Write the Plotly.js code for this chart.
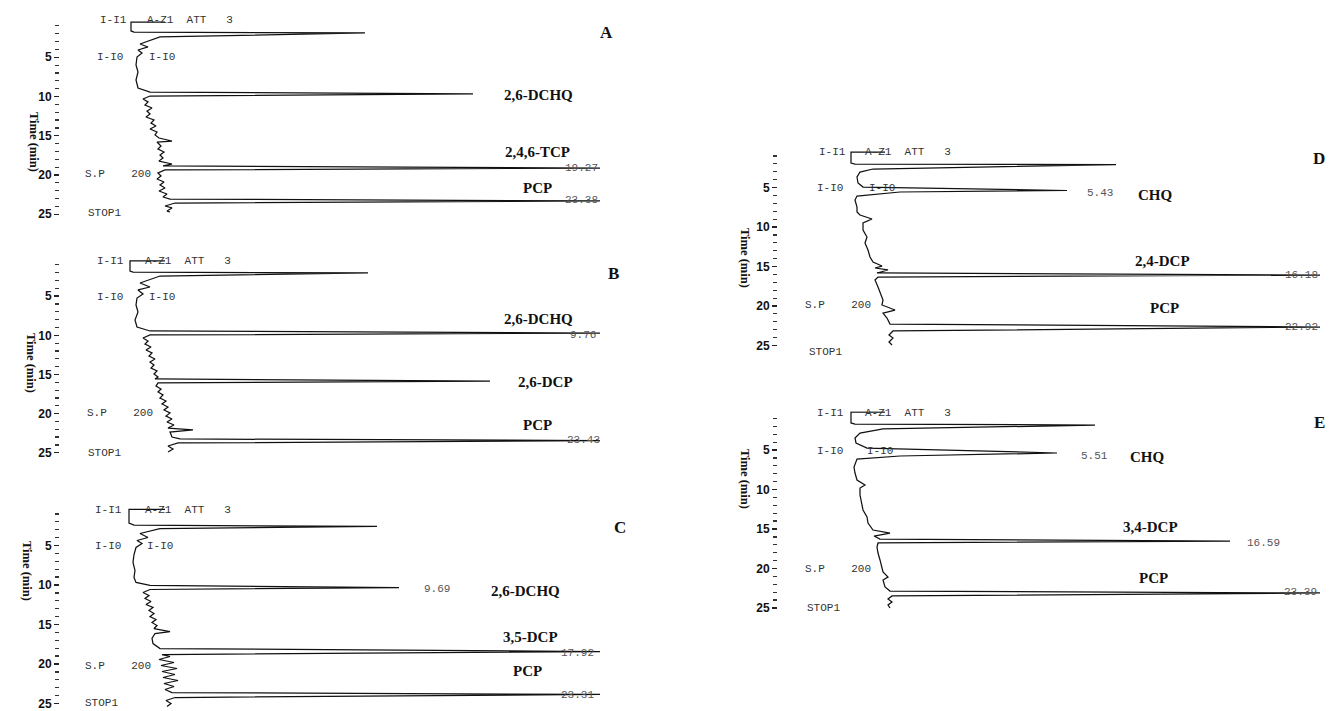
<!DOCTYPE html>
<html><head><meta charset="utf-8">
<script src="https://cdn.plot.ly/plotly-3.0.1.min.js"></script>
<style>html,body{margin:0;padding:0;background:#fff;}#chart{width:1329px;height:711px;}</style>
</head><body><div id="chart"></div>
<script>
// ---------- DATA (time in min, detector signal in arbitrary units) ----------
const timeA = [0.51,0.51,1.65,1.80,1.91,2.42,3.31,3.69,4.08,4.46,4.97,5.99,6.88,7.90,8.92,9.43,9.68,9.94,10.32,10.70,11.08,11.46,11.85,12.23,12.61,12.99,13.38,13.76,14.14,14.52,14.90,15.29,15.67,15.80,16.31,16.69,17.07,17.45,17.83,18.22,18.60,18.85,19.11,19.36,19.75,20.13,20.51,20.89,21.27,21.66,22.04,22.42,22.80,23.06,23.31,23.57,23.95,24.20,24.59,24.71];
const signalA = [105,71,71,74,305,100,80,88,78,82,77,76,78,76,78,90,413,90,83,88,85,92,87,90,86,94,91,96,90,97,95,99,112,97,101,98,104,100,103,99,112,103,540,105,98,101,97,104,100,105,99,107,103,110,540,115,105,112,107,110];

const timeB = [0.51,0.51,1.79,1.92,2.04,2.43,3.32,3.83,4.21,4.73,5.24,6.13,7.02,8.05,8.94,9.45,9.71,9.96,10.34,10.73,11.11,11.49,11.88,12.26,12.64,13.03,13.41,13.79,14.18,14.56,14.94,15.33,15.58,15.84,16.09,16.48,16.86,17.24,17.62,18.01,18.39,18.77,19.16,19.54,19.92,20.31,20.69,21.07,21.46,21.84,22.09,22.35,22.99,23.24,23.44,23.75,24.14,24.52,24.90];
const signalB = [105,70,70,73,308,100,80,90,78,83,77,76,78,75,77,90,540,90,83,88,85,91,86,92,89,95,90,94,91,97,94,98,95,430,98,96,101,98,103,100,106,102,108,104,110,106,112,107,114,108,133,110,112,120,540,118,108,113,108];

const timeC = [0.44,0.44,2.15,2.42,2.59,2.85,3.48,3.99,4.37,4.75,5.25,6.14,7.15,8.16,9.05,9.68,10.06,10.32,10.57,10.95,11.33,11.71,12.09,12.47,12.85,13.23,13.61,13.99,14.37,14.75,15.13,15.51,15.89,16.14,16.77,17.41,18.04,18.42,18.80,19.05,19.43,19.81,20.19,20.57,20.95,21.33,21.71,22.09,22.47,22.85,23.23,23.61,23.86,24.24,24.62,25.00,25.38];
const signalC = [105,69,69,74,317,100,80,88,77,82,76,74,73,75,74,76,90,339,90,83,89,85,91,86,93,89,94,90,96,92,97,94,110,95,92,93,100,540,102,110,99,114,101,117,102,115,103,118,104,114,105,112,540,115,106,111,107];

const timeD = [0.51,0.51,1.90,2.03,2.09,2.66,3.04,3.67,4.43,4.94,5.38,5.57,6.08,6.58,7.47,8.10,8.48,8.99,9.49,10.38,11.27,12.03,12.91,13.80,14.43,14.94,15.19,15.44,15.82,16.08,16.33,16.71,17.59,18.35,19.24,19.87,20.51,20.89,21.52,22.28,22.66,23.16,23.67,24.05,24.56,24.94];
const signalD = [107,73,73,77,338,95,82,79,80,85,289,122,79,77,79,79,82,94,85,85,89,87,90,92,95,104,97,110,99,542,100,97,100,102,105,104,117,105,109,112,542,115,111,115,111,114];

const timeE = [0.19,0.19,1.58,1.71,1.84,2.34,2.85,3.48,4.11,4.75,5.38,5.76,6.14,7.15,7.91,8.80,9.43,9.81,10.70,11.71,12.59,13.48,14.24,15.13,15.51,15.89,16.27,16.52,16.77,17.28,18.04,18.92,19.81,20.44,21.08,21.46,22.34,22.85,23.10,23.48,23.86,24.24,24.62,25.00];
const signalE = [107,73,73,77,317,105,82,77,78,89,279,122,79,76,77,79,87,82,82,84,85,89,90,95,112,96,102,452,100,99,100,102,104,105,110,105,107,112,542,114,110,114,110,112];

const panelLetters = ['A','B','C','D','E'];
const peakNamesA = ['2,6-DCHQ','2,4,6-TCP','PCP'];
const peakNamesB = ['2,6-DCHQ','2,6-DCP','PCP'];
const peakNamesC = ['2,6-DCHQ','3,5-DCP','PCP'];
const peakNamesD = ['CHQ','2,4-DCP','PCP'];
const peakNamesE = ['CHQ','3,4-DCP','PCP'];
const rtLabelsA = ['19.27','23.38'];
const rtLabelsB = ['9.76','23.43'];
const rtLabelsC = ['9.69','17.92','23.31'];
const rtLabelsD = ['5.43','16.18','22.92'];
const rtLabelsE = ['5.51','16.59','23.39'];
const eventTexts = ['I-I1','A-Z1  ATT   3','I-I0','I-I0','S.P    200','STOP1'];
const tickLabels = [5,10,15,20,25];
const yTitle = 'Time (min)';

// ---------- LAYOUT ----------
const W = 1329, H = 711;
const px = x => x / W, py = y => 1 - y / H;

const geo = [
  {x0: 60,  x1: 640,  t0: 18,    k: 7.85, title: [25, 110]},
  {x0: 60,  x1: 640,  t0: 257,   k: 7.83, title: [22, 363]},
  {x0: 60,  x1: 640,  t0: 506,   k: 7.9,  title: [18, 603]},
  {x0: 778, x1: 1329, t0: 148,   k: 7.9,  title: [745, 258]},
  {x0: 778, x1: 1329, t0: 410.5, k: 7.9,  title: [745, 511]}
];
const tRange = [25.6, 0.1];

const times = [timeA, timeB, timeC, timeD, timeE];
const signals = [signalA, signalB, signalC, signalD, signalE];

const data = [];
const layout = {
  width: W, height: H,
  margin: {l: 0, r: 0, t: 0, b: 0},
  paper_bgcolor: '#fff', plot_bgcolor: 'rgba(0,0,0,0)',
  showlegend: false,
  annotations: []
};

geo.forEach((g, i) => {
  const n = i + 1;
  const sfx = n === 1 ? '' : String(n);
  data.push({
    type: 'scatter', mode: 'lines',
    x: signals[i], y: times[i],
    xaxis: 'x' + sfx, yaxis: 'y' + sfx,
    line: {color: '#111', width: 1.25},
    hoverinfo: 'skip', cliponaxis: false
  });
  layout['xaxis' + sfx] = {
    domain: [px(g.x0), px(g.x1)], range: [0, g.x1 - g.x0],
    anchor: 'y' + sfx, visible: false, fixedrange: true
  };
  layout['yaxis' + sfx] = {
    domain: [py(g.t0 + tRange[0] * g.k), py(g.t0 + tRange[1] * g.k)],
    range: tRange, anchor: 'x' + sfx,
    tickmode: 'array', tickvals: tickLabels, ticktext: tickLabels.map(String),
    ticks: 'outside', ticklen: 5, tickwidth: 1.4, tickcolor: '#222',
    ticklabeloverflow: 'allow',
    minor: {dtick: 1, tick0: 0, ticks: 'outside', ticklen: 4, tickwidth: 1.2, tickcolor: '#333', showgrid: false},
    showline: false, showgrid: false, zeroline: false,
    tickfont: {family: 'Liberation Sans, Arial, sans-serif', size: 12, color: '#111', weight: 'bold'},
    fixedrange: true
  };
  layout.annotations.push({
    text: '<b>' + yTitle + '</b>', x: px(g.title[0]), y: py(g.title[1]),
    xref: 'paper', yref: 'paper', showarrow: false, textangle: 90,
    font: {family: 'Liberation Serif, Times New Roman, serif', size: 12.5, color: '#111'}
  });
});

const serifB = {family: 'Liberation Serif, Times New Roman, serif', size: 15, color: '#111'};
const letterF = {family: 'Liberation Serif, Times New Roman, serif', size: 17, color: '#111'};
const monoF = {family: 'Liberation Mono, DejaVu Sans Mono, monospace', size: 11, color: '#333'};
const rtF = {family: 'Liberation Mono, DejaVu Sans Mono, monospace', size: 11, color: '#555'};

function ann(text, x, y, font, extra) {
  layout.annotations.push(Object.assign({
    text: text, x: px(x), y: py(y), xref: 'paper', yref: 'paper',
    showarrow: false, font: font, xanchor: 'center', yanchor: 'middle'
  }, extra || {}));
}

[[606, 32], [613, 273], [620, 527], [1319, 158], [1319, 423]].forEach((p, i) =>
  ann('<b>' + panelLetters[i] + '</b>', p[0], p[1], letterF));

const peakPos = [
  [[538, 95], [537, 152], [537, 188]],
  [[538, 319], [545, 382], [537, 425]],
  [[525, 591], [530, 637], [527, 671]],
  [[1155, 195], [1162, 261], [1164, 308]],
  [[1147, 457], [1150, 527], [1153, 578]]
];
[peakNamesA, peakNamesB, peakNamesC, peakNamesD, peakNamesE].forEach((names, i) =>
  names.forEach((nm, j) => ann('<b>' + nm + '</b>', peakPos[i][j][0], peakPos[i][j][1], serifB)));

const rtPos = [
  [[581, 168], [581, 200]],
  [[583, 335], [583, 440]],
  [[437, 589], [577, 653], [577, 695]],
  [[1100, 193], [1301, 275], [1301, 327]],
  [[1094, 456], [1263, 543], [1300, 592]]
];
[rtLabelsA, rtLabelsB, rtLabelsC, rtLabelsD, rtLabelsE].forEach((labs, i) =>
  labs.forEach((t, j) => ann(t, rtPos[i][j][0], rtPos[i][j][1], rtF)));

const evPos = [
  [[98, 20], [145, 20], [95, 57], [147, 57], [83, 174], [86, 213]],
  [[95, 261], [143, 261], [95, 297], [147, 297], [85, 413], [86, 453]],
  [[93, 510], [143, 510], [93, 546], [145, 546], [83, 666], [83, 703]],
  [[817, 152], [863, 152], [815, 188], [867, 188], [803, 305], [807, 352]],
  [[815, 413], [863, 413], [815, 451], [865, 451], [803, 569], [805, 608]]
];
evPos.forEach(list => list.forEach((p, j) =>
  ann(eventTexts[j], p[0], p[1], monoF, {xanchor: 'left'})));

Plotly.newPlot('chart', data, layout, {staticPlot: true, displayModeBar: false});
</script>
</body></html>
